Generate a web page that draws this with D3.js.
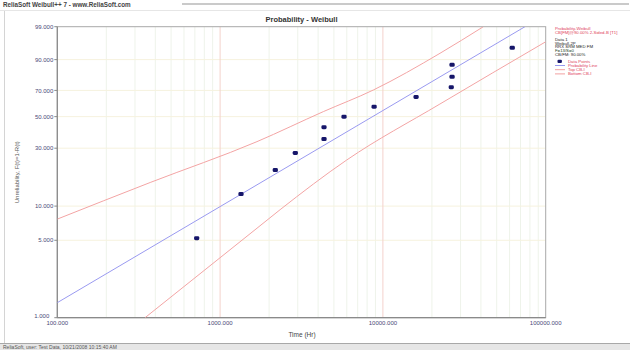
<!DOCTYPE html>
<html>
<head>
<meta charset="utf-8">
<script src="https://cdn.jsdelivr.net/npm/d3@7"></script>
<style>
  html, body { margin: 0; padding: 0; background: #fff; }
  svg { display: block; font-family: "Liberation Sans", Arial, sans-serif; }
</style>
</head>
<body>
<div id="chart"></div>
<script>
// ---- data ----
const probTicks = [1, 5, 10, 30, 50, 70, 90, 99];
const probTickLabels = ["1.000", "5.000", "10.000", "30.000", "50.000", "70.000", "90.000", "99.000"];
const timeTicks = [100, 1000, 10000, 100000];
const timeTickLabels = ["100.000", "1000.000", "10000.000", "100000.000"];

// failure times (Hr) and median-rank unreliability (%)
const failTimes = [718, 1344, 2183, 2897, 4348, 4348, 5770, 8830, 15990, 26300, 26600, 26600, 62300];
const failUnrel = [5.22, 12.69, 20.15, 27.61, 35.07, 42.54, 50.0, 57.46, 64.93, 72.39, 79.85, 87.31, 94.78];

// probability line
const fitTimes = [100, 74600];
const fitUnrel = [1.37, 99.0];

// confidence bounds
const topCbTimes = [100, 372, 1685, 4305, 8730, 22430, 41400];
const topCbUnrel = [7.7, 15.9, 33.6, 53.7, 70.3, 92.8, 99.0];
const botCbTimes = [346, 1685, 2335, 6000, 22400, 100000];
const botCbUnrel = [1.0, 6.4, 9.3, 24.3, 59.5, 96.5];

const legendLines = [
  { text: "Probability-Weibull", color: "#e0405a" },
  { text: "CB[FM]@90.00% 2-Sided-B [T1]", color: "#e0405a" },
  { text: "Data 1", color: "#222" },
  { text: "Weibull-2P", color: "#222" },
  { text: "RRX SRM MED FM", color: "#222" },
  { text: "F=13/S=0", color: "#224422" },
  { text: "CB/FM: 90.00%", color: "#222" }
];
const legendKeys = [
  { text: "Data Points", kind: "point" },
  { text: "Probability Line", kind: "line", color: "#9a9af0" },
  { text: "Top CB-I", kind: "line", color: "#f2a0a0" },
  { text: "Bottom CB-I", kind: "line", color: "#f2a0a0" }
];

// ---- layout ----
const W = 630, H = 350;
const plot = { left: 57.3, right: 545.7, top: 26.7, bottom: 317.7 };

const COLORS = {
  point: "#16166a",
  fit: "#9a9af0",
  cb: "#f3a4a4",
  axis: "#8a8a8a",
  tickText: "#4a4a78",
  decade: "#f4d2cc",
  minor: "#eef3ea",
  hgrid: "#f6f2de"
};

// Weibull probability paper transform
const wt = p => Math.log(-Math.log(1 - p / 100));

const x = d3.scaleLog().domain([100, 100000]).range([plot.left, plot.right]);
const yLin = d3.scaleLinear().domain([wt(1), wt(99)]).range([plot.bottom, plot.top]);
const y = p => yLin(wt(p));

const svg = d3.select("#chart").append("svg")
  .attr("width", W)
  .attr("height", H);

svg.append("rect").attr("width", W).attr("height", H).attr("fill", "#fff");

// header strip
svg.append("text")
  .attr("x", 3).attr("y", 7)
  .attr("font-size", "6.3px")
  .attr("font-weight", "bold")
  .attr("fill", "#444")
  .text("ReliaSoft Weibull++ 7 - www.ReliaSoft.com");
svg.append("line")
  .attr("x1", 182).attr("x2", 629).attr("y1", 4).attr("y2", 4)
  .attr("stroke", "#b8b8b8").attr("stroke-width", 1.5);
svg.append("line")
  .attr("x1", 0).attr("x2", W).attr("y1", 10.5).attr("y2", 10.5)
  .attr("stroke", "#e6e6e6");
svg.append("line")
  .attr("x1", 4.5).attr("x2", 4.5).attr("y1", 11).attr("y2", 343)
  .attr("stroke", "#d4d4d4");

// footer strip
svg.append("rect")
  .attr("x", 0).attr("y", 343).attr("width", W).attr("height", 7)
  .attr("fill", "#e6e6e6");
svg.append("line")
  .attr("x1", 0).attr("x2", W).attr("y1", 343.5).attr("y2", 343.5)
  .attr("stroke", "#a8a8a8");
svg.append("text")
  .attr("x", 3).attr("y", 349)
  .attr("font-size", "5px")
  .attr("fill", "#555")
  .text("ReliaSoft, user: Test Data, 10/21/2008 10:15:40 AM");

// grid
const gridGroup = svg.append("g").attr("class", "grid");
const minorTimes = [];
for (const dec of [100, 1000, 10000]) {
  for (let m = 2; m <= 9; m++) minorTimes.push(dec * m);
}
gridGroup.selectAll(".minor")
  .data(minorTimes)
  .enter()
  .append("line")
  .attr("class", "minor")
  .attr("x1", d => x(d)).attr("x2", d => x(d))
  .attr("y1", plot.top).attr("y2", plot.bottom)
  .attr("stroke", COLORS.minor);

gridGroup.selectAll(".hgrid")
  .data(probTicks.slice(1, -1))
  .enter()
  .append("line")
  .attr("class", "hgrid")
  .attr("x1", plot.left).attr("x2", plot.right)
  .attr("y1", d => y(d)).attr("y2", d => y(d))
  .attr("stroke", COLORS.hgrid);

gridGroup.selectAll(".decade")
  .data(timeTicks.slice(1, -1))
  .enter()
  .append("line")
  .attr("class", "decade")
  .attr("x1", d => x(d)).attr("x2", d => x(d))
  .attr("y1", plot.top).attr("y2", plot.bottom)
  .attr("stroke", COLORS.decade);

// frame
svg.append("rect")
  .attr("x", plot.left).attr("y", plot.top)
  .attr("width", plot.right - plot.left)
  .attr("height", plot.bottom - plot.top)
  .attr("fill", "none")
  .attr("stroke", "#a8a8a8");
svg.append("line")
  .attr("x1", plot.left).attr("x2", plot.left)
  .attr("y1", plot.top).attr("y2", plot.bottom)
  .attr("stroke", COLORS.axis).attr("stroke-width", 1.2);
svg.append("line")
  .attr("x1", plot.left).attr("x2", plot.right)
  .attr("y1", plot.bottom).attr("y2", plot.bottom)
  .attr("stroke", COLORS.axis).attr("stroke-width", 1.2);

// y ticks
const yTicks = svg.append("g").attr("class", "y-ticks");
yTicks.selectAll("line")
  .data(probTicks)
  .enter()
  .append("line")
  .attr("x1", plot.left - 3).attr("x2", plot.left)
  .attr("y1", d => y(d)).attr("y2", d => y(d))
  .attr("stroke", COLORS.axis);
yTicks.selectAll("text")
  .data(probTicks)
  .enter()
  .append("text")
  .attr("x", (d, i) => i === 0 ? plot.left - 8 : plot.left - 4)
  .attr("y", d => y(d))
  .attr("dy", (d, i) => i === 0 ? "0.1em" : "0.35em")
  .attr("text-anchor", "end")
  .attr("font-size", "6px")
  .attr("fill", COLORS.tickText)
  .text((d, i) => probTickLabels[i]);

// x ticks
svg.append("g").attr("class", "x-ticks")
  .selectAll("text")
  .data(timeTicks)
  .enter()
  .append("text")
  .attr("x", d => x(d))
  .attr("y", plot.bottom + 7)
  .attr("text-anchor", "middle")
  .attr("font-size", "6px")
  .attr("fill", COLORS.tickText)
  .text((d, i) => timeTickLabels[i]);

// titles
svg.append("text")
  .attr("x", (plot.left + plot.right) / 2)
  .attr("y", 22)
  .attr("text-anchor", "middle")
  .attr("font-size", "7.5px")
  .attr("font-weight", "bold")
  .attr("fill", "#333")
  .text("Probability - Weibull");
svg.append("text")
  .attr("transform", `translate(19,${(plot.top + plot.bottom) / 2}) rotate(-90)`)
  .attr("text-anchor", "middle")
  .attr("font-size", "6px")
  .attr("fill", "#555")
  .text("Unreliability, F(t)=1-R(t)");
svg.append("text")
  .attr("x", 302)
  .attr("y", 337)
  .attr("text-anchor", "middle")
  .attr("font-size", "6.5px")
  .attr("fill", "#444")
  .text("Time (Hr)");

// curves
svg.append("clipPath").attr("id", "plot-clip")
  .append("rect")
  .attr("x", plot.left).attr("y", plot.top)
  .attr("width", plot.right - plot.left)
  .attr("height", plot.bottom - plot.top);

const curveGroup = svg.append("g").attr("clip-path", "url(#plot-clip)");
const line = d3.line()
  .x(d => x(d[0]))
  .y(d => y(d[1]))
  .curve(d3.curveMonotoneX);

curveGroup.append("path")
  .datum(d3.zip(topCbTimes, topCbUnrel))
  .attr("d", line)
  .attr("fill", "none")
  .attr("stroke", COLORS.cb)
  .attr("stroke-width", 1);
curveGroup.append("path")
  .datum(d3.zip(botCbTimes, botCbUnrel))
  .attr("d", line)
  .attr("fill", "none")
  .attr("stroke", COLORS.cb)
  .attr("stroke-width", 1);
curveGroup.append("path")
  .datum(d3.zip(fitTimes, fitUnrel))
  .attr("d", line)
  .attr("fill", "none")
  .attr("stroke", COLORS.fit)
  .attr("stroke-width", 1);

// data points
svg.append("g").attr("class", "points")
  .selectAll("rect")
  .data(d3.zip(failTimes, failUnrel))
  .enter()
  .append("rect")
  .attr("x", d => x(d[0]) - 2.6)
  .attr("y", d => y(d[1]) - 2)
  .attr("width", 5.2)
  .attr("height", 4)
  .attr("rx", 1.4)
  .attr("fill", COLORS.point);

// legend
const legend = svg.append("g").attr("class", "legend")
  .attr("font-size", "4.3px");
legend.selectAll(".ltext")
  .data(legendLines)
  .enter()
  .append("text")
  .attr("class", "ltext")
  .attr("x", 555)
  .attr("y", (d, i) => [29.5, 34, 40.5, 44.5, 48, 51.5, 55.5][i])
  .attr("fill", d => d.color)
  .text(d => d.text);

const keyRows = legend.selectAll(".key")
  .data(legendKeys)
  .enter()
  .append("g")
  .attr("class", "key")
  .attr("transform", (d, i) => `translate(555,${61.3 + i * 4.2})`);
keyRows.each(function(d) {
  const g = d3.select(this);
  if (d.kind === "point") {
    g.append("rect")
      .attr("x", 2.5).attr("y", -1.6)
      .attr("width", 4.4).attr("height", 3.2)
      .attr("rx", 1)
      .attr("fill", COLORS.point);
  } else {
    g.append("line")
      .attr("x1", 0).attr("x2", 10)
      .attr("y1", 0).attr("y2", 0)
      .attr("stroke", d.color);
  }
  g.append("text")
    .attr("x", 13)
    .attr("y", 1.5)
    .attr("fill", "#e0405a")
    .text(d.text);
});
</script>
</body>
</html>
